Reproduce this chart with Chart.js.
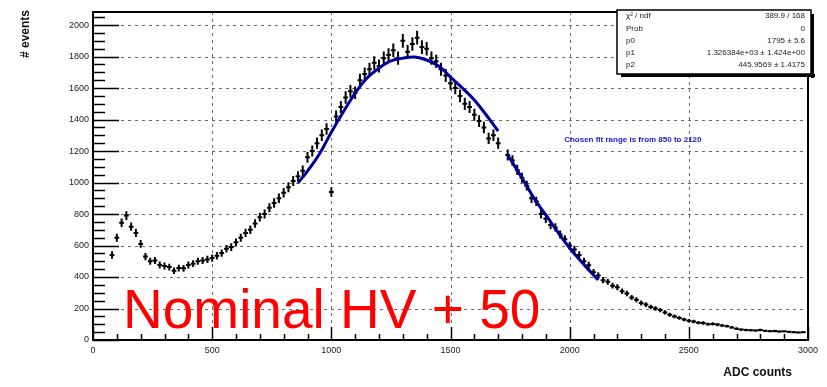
<!DOCTYPE html>
<html>
<head>
<meta charset="utf-8">
<script src="https://cdn.jsdelivr.net/npm/chart.js@4.4.1/dist/chart.umd.min.js"></script>
<style>
  body { margin: 0; background: #fff; }
  #wrap { width: 827px; height: 387px; }
</style>
</head>
<body>
<div id="wrap"><canvas id="adcChart"></canvas></div>
<script>
// Histogram bin centres (ADC counts) and entries per bin
const adcBins = [
  80, 100, 120, 140, 160, 180, 200, 220, 240, 260, 280, 300, 320, 340, 360, 380, 400, 420, 440, 460,
  480, 500, 520, 540, 560, 580, 600, 620, 640, 660, 680, 700, 720, 740, 760, 780, 800, 820, 840, 860,
  880, 900, 920, 940, 960, 980, 1000, 1020, 1040, 1060, 1080, 1100, 1120, 1140, 1160, 1180, 1200, 1220, 1240, 1260,
  1280, 1300, 1320, 1340, 1360, 1380, 1400, 1420, 1440, 1460, 1480, 1500, 1520, 1540, 1560, 1580, 1600, 1620, 1640, 1660,
  1680, 1700, 1720, 1740, 1760, 1780, 1800, 1820, 1840, 1860, 1880, 1900, 1920, 1940, 1960, 1980, 2000, 2020, 2040, 2060,
  2080, 2100, 2120, 2140, 2160, 2180, 2200, 2220, 2240, 2260, 2280, 2300, 2320, 2340, 2360, 2380, 2400, 2420, 2440, 2460,
  2480, 2500, 2520, 2540, 2560, 2580, 2600, 2620, 2640, 2660, 2680, 2700, 2720, 2740, 2760, 2780, 2800, 2820, 2840, 2860,
  2880, 2900, 2920, 2940, 2960, 2980
];
const eventCounts = [
  540, 650, 745, 790, 720, 680, 610, 530, 500, 505, 476, 470, 463, 440, 457, 455, 476, 485, 500, 505,
  512, 520, 535, 552, 580, 590, 620, 650, 680, 700, 740, 780, 800, 840, 870, 900, 935, 970, 1010, 1040,
  1075, 1160, 1200, 1250, 1300, 1340, 940, 1420, 1480, 1540, 1580, 1570, 1650, 1690, 1720, 1760, 1740, 1790, 1810, 1840,
  1790, 1900, 1830, 1880, 1920, 1860, 1850, 1790, 1770, 1720, 1680, 1630, 1600, 1550, 1500, 1480, 1430, 1390, 1350, 1280,
  1300, 1250, null, 1175, 1140, 1080, 1030, 980, 900, 880, 800, 770, 730, 715, 670, 640, 600, 575, 540, 500,
  475, 430, 410, 380, 370, 345, 335, 310, 295, 270, 255, 235, 225, 210, 200, 190, 175, 160, 150, 140,
  130, 122, 118, 110, 108, 100, 102, 98, 92, 88, 80, 72, 66, 64, 62, 60, 64, 58, 56, 57,
  54, 55, 52, 50, 48, 50
];

// Gaussian fit curve (gap where the data is missing)
const fitAdc = [860, 900, 950, 1000, 1050, 1100, 1150, 1200, 1250, 1300, 1350, 1400, 1450, 1500, 1550, 1600, 1650, 1700,
  1720, 1740, 1800, 1850, 1900, 1950, 2000, 2050, 2100, 2120];
const fitEvents = [997, 1073, 1181, 1320, 1448, 1568, 1664, 1727, 1772, 1790, 1797, 1778, 1740, 1670, 1600, 1524, 1429, 1327,
  null, 1175, 1029, 902, 794, 686, 584, 495, 413, 381];

const xTicks = [0, 500, 1000, 1500, 2000, 2500, 3000];
const yTicks = [0, 200, 400, 600, 800, 1000, 1200, 1400, 1600, 1800, 2000];

const statsLabels = ['χ² / ndf', 'Prob', 'p0', 'p1', 'p2'];
const statsValues = ['389.9 / 168', '0', '1795 ± 5.6', '1.326384e+03 ± 1.424e+00', '445.9569 ± 1.4175'];
const fitNote = 'Chosen fit range is from 850 to 2120';
const runLabel = 'Nominal HV + 50';

const FONT = '"Liberation Sans", Arial, sans-serif';

// ROOT-like decorations: dashed grid, inward ticks, frame, error bars, stats box
const rootStyle = {
  id: 'rootStyle',
  beforeDatasetsDraw(chart) {
    const { ctx, chartArea: a, scales: { x, y } } = chart;
    ctx.save();
    ctx.strokeStyle = '#6a6a6a';
    ctx.lineWidth = 1;
    ctx.setLineDash([3, 4]);
    xTicks.slice(1, -1).forEach(v => {
      const px = Math.round(x.getPixelForValue(v)) + 0.5;
      ctx.beginPath(); ctx.moveTo(px, a.top); ctx.lineTo(px, a.bottom); ctx.stroke();
    });
    yTicks.slice(1).forEach(v => {
      const py = Math.round(y.getPixelForValue(v)) + 0.5;
      ctx.beginPath(); ctx.moveTo(a.left, py); ctx.lineTo(a.right, py); ctx.stroke();
    });
    ctx.setLineDash([]);

    // error bars of the histogram
    ctx.strokeStyle = '#000';
    ctx.lineWidth = 2;
    adcBins.forEach((b, i) => {
      const v = eventCounts[i];
      if (v == null) return;
      const err = Math.sqrt(v);
      const px = x.getPixelForValue(b);
      const py = y.getPixelForValue(v);
      ctx.beginPath();
      ctx.moveTo(px, y.getPixelForValue(v + err));
      ctx.lineTo(px, y.getPixelForValue(v - err));
      ctx.moveTo(x.getPixelForValue(b - 10), py);
      ctx.lineTo(x.getPixelForValue(b + 10), py);
      ctx.stroke();
    });
    ctx.restore();
  },
  afterDatasetsDraw(chart) {
    const { ctx, chartArea: a, scales: { x, y } } = chart;
    ctx.save();
    ctx.strokeStyle = '#000';
    ctx.lineWidth = 1.5;
    // y ticks (inward)
    for (let v = 0; v <= 2080; v += 50) {
      const py = Math.round(y.getPixelForValue(v)) + 0.5;
      const len = v % 200 === 0 ? 26 : 12;
      ctx.beginPath(); ctx.moveTo(a.left, py); ctx.lineTo(a.left + len, py); ctx.stroke();
    }
    // x ticks (inward)
    for (let v = 0; v <= 3000; v += 100) {
      const px = Math.round(x.getPixelForValue(v)) + 0.5;
      const len = v % 500 === 0 ? 13 : 6;
      ctx.beginPath(); ctx.moveTo(px, a.bottom); ctx.lineTo(px, a.bottom - len); ctx.stroke();
    }
    // frame
    ctx.lineWidth = 2;
    ctx.strokeRect(a.left, a.top, a.right - a.left, a.bottom - a.top);
    ctx.restore();
  },
  afterDraw(chart) {
    const { ctx, chartArea: a, scales: { x, y } } = chart;
    ctx.save();

    // run label
    ctx.fillStyle = '#ff0000';
    ctx.font = '55px ' + FONT;
    ctx.textAlign = 'left';
    ctx.textBaseline = 'alphabetic';
    ctx.fillText(runLabel, x.getPixelForValue(126), y.getPixelForValue(78));

    // fit range note
    ctx.fillStyle = '#1a1acc';
    ctx.font = 'bold 8px ' + FONT;
    ctx.textAlign = 'center';
    ctx.textBaseline = 'middle';
    ctx.fillText(fitNote, x.getPixelForValue(2265), y.getPixelForValue(1270));

    // stats box
    const bx = 617, by = 10, bw = 194, bh = 64;
    ctx.fillStyle = '#000';
    ctx.fillRect(bx + bw, by + 4, 3, bh);
    ctx.fillRect(bx + 4, by + bh, bw, 3);
    ctx.fillStyle = '#fff';
    ctx.fillRect(bx, by, bw, bh);
    ctx.strokeStyle = '#000';
    ctx.lineWidth = 1.5;
    ctx.strokeRect(bx, by, bw, bh);
    ctx.fillStyle = '#222';
    ctx.font = '8px ' + FONT;
    statsLabels.forEach((t, i) => {
      const ry = by + 6 + i * 12.3;
      ctx.textAlign = 'left';
      ctx.fillText(t, bx + 9, ry);
      ctx.textAlign = 'right';
      ctx.fillText(statsValues[i], bx + bw - 6, ry);
    });

    // axis titles
    ctx.fillStyle = '#111';
    ctx.font = 'bold 12px ' + FONT;
    ctx.textAlign = 'right';
    ctx.textBaseline = 'middle';
    ctx.fillText('ADC counts', a.right - 16, 373);
    ctx.translate(26, a.top - 2);
    ctx.rotate(-Math.PI / 2);
    ctx.fillText('# events', 0, 0);
    ctx.restore();
  }
};

new Chart(document.getElementById('adcChart'), {
  type: 'scatter',
  data: {
    datasets: [
      {
        label: 'data',
        data: adcBins.map((b, i) => ({ x: b, y: eventCounts[i] })),
        pointRadius: 0,
        showLine: false,
      },
      {
        label: 'fit',
        data: fitAdc.map((b, i) => ({ x: b, y: fitEvents[i] })),
        showLine: true,
        spanGaps: false,
        borderColor: '#000099',
        borderWidth: 3,
        pointRadius: 0,
        tension: 0.4,
      },
    ],
  },
  options: {
    responsive: true,
    maintainAspectRatio: false,
    animation: false,
    layout: { padding: { top: 12, right: 19, left: 0, bottom: 0 } },
    plugins: { legend: { display: false }, tooltip: { enabled: false } },
    scales: {
      x: {
        type: 'linear',
        min: 0,
        max: 3000,
        afterBuildTicks: (s) => { s.ticks = xTicks.map(v => ({ value: v })); },
        afterFit: (s) => { s.height = 47; },
        grid: { display: false, drawTicks: false },
        border: { display: false },
        ticks: { color: '#222', padding: 5, maxRotation: 0, callback: (v) => String(v), font: { size: 9, family: FONT } },
      },
      y: {
        type: 'linear',
        min: 0,
        max: 2083,
        afterBuildTicks: (s) => { s.ticks = yTicks.map(v => ({ value: v })); },
        afterFit: (s) => { s.width = 93; },
        grid: { display: false, drawTicks: false },
        border: { display: false },
        ticks: { color: '#222', padding: 4, callback: (v) => String(v), font: { size: 9, family: FONT } },
      },
    },
  },
  plugins: [rootStyle],
});
</script>
</body>
</html>
